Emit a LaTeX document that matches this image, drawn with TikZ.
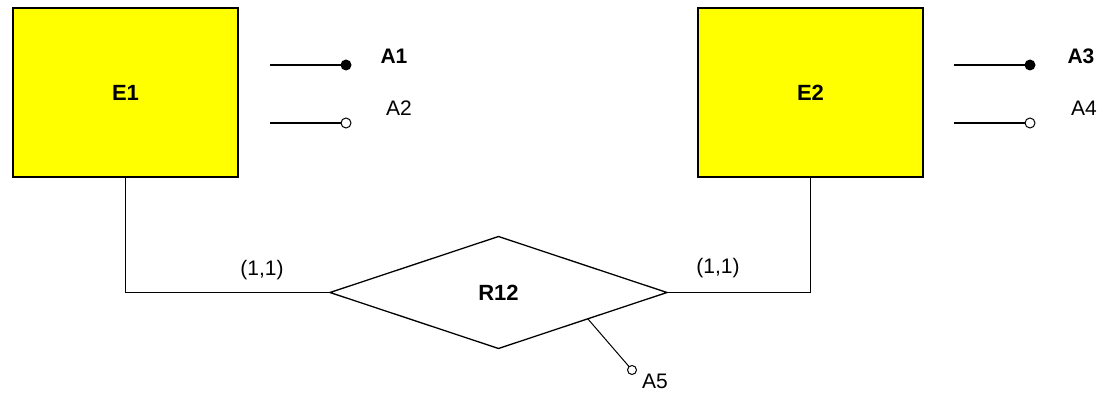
\documentclass[tikz,border=0pt]{standalone}
\usepackage{fontspec}
\setmainfont{Liberation Sans}
\usetikzlibrary{shapes.geometric,calc}
\definecolor{entfill}{RGB}{255,255,0}
\tikzset{
  entity/.style={draw=black, line width=1.6pt, fill=entfill, minimum width=225pt,
    minimum height=169pt, inner sep=0pt, outer sep=0pt, font=\fontsize{22}{26}\selectfont\bfseries},
  relation/.style={diamond, draw=black, line width=1.3pt, fill=white, minimum width=337pt,
    minimum height=112pt, inner sep=0pt, outer sep=0pt, font=\fontsize{22}{26}\selectfont\bfseries},
  keyattr/.style={circle, fill=black, minimum size=11pt, inner sep=0pt, outer sep=0pt},
  plainattr/.style={circle, draw=black, line width=1pt, fill=white, minimum size=10pt, inner sep=0pt, outer sep=0pt},
  keylabel/.style={font=\fontsize{21}{24}\selectfont\bfseries, inner sep=0pt},
  attrlabel/.style={font=\fontsize{21}{24}\selectfont, inner sep=0pt},
  cardlabel/.style={font=\fontsize{21}{24}\selectfont, inner sep=0pt},
  link/.style={draw=black, line width=1.3pt}
}
\begin{document}
\begin{tikzpicture}[x=1pt, y=-1pt]
\useasboundingbox (0,0) rectangle (1104,395);

% entities
\node[entity] (e1) at (125.5,92.5) {E1};
\node[entity] (e2) at (810.5,92.5) {E2};

% relationship
\node[relation] (r12) at (498.5,292.5) {R12};

% attributes of E1
\coordinate (a1s) at (270,65);
\node[keyattr] (a1) at (346,65) {};
\node[keylabel] (a1t) at (394,56) {A1};
\coordinate (a2s) at (270,123);
\node[plainattr] (a2) at (346,123) {};
\node[attrlabel] (a2t) at (399,108) {A2};
\draw[link] (a1s) -- (a1);
\draw[link] (a2s) -- (a2);

% attributes of E2
\coordinate (a3s) at (954,65);
\node[keyattr] (a3) at (1030,65) {};
\node[keylabel] (a3t) at (1081,56) {A3};
\coordinate (a4s) at (954,123);
\node[plainattr] (a4) at (1030,123) {};
\node[attrlabel] (a4t) at (1084,108) {A4};
\draw[link] (a3s) -- (a3);
\draw[link] (a4s) -- (a4);

% attribute of the relationship
\coordinate (a5s) at ($(r12.east)!0.47!(r12.south)$);
\node[plainattr, minimum size=9pt] (a5) at (632,370) {};
\node[attrlabel] (a5t) at (655,381) {A5};
\draw[link, line width=1pt] (a5s) -- (a5);

% participation links with cardinalities
\draw[link] (e1.south) |- (r12.west);
\draw[link] (e2.south) |- (r12.east);
\node[cardlabel] (c1) at (262,270) {(1,1)};
\node[cardlabel] (c2) at (718,268) {(1,1)};
\end{tikzpicture}
\end{document}
